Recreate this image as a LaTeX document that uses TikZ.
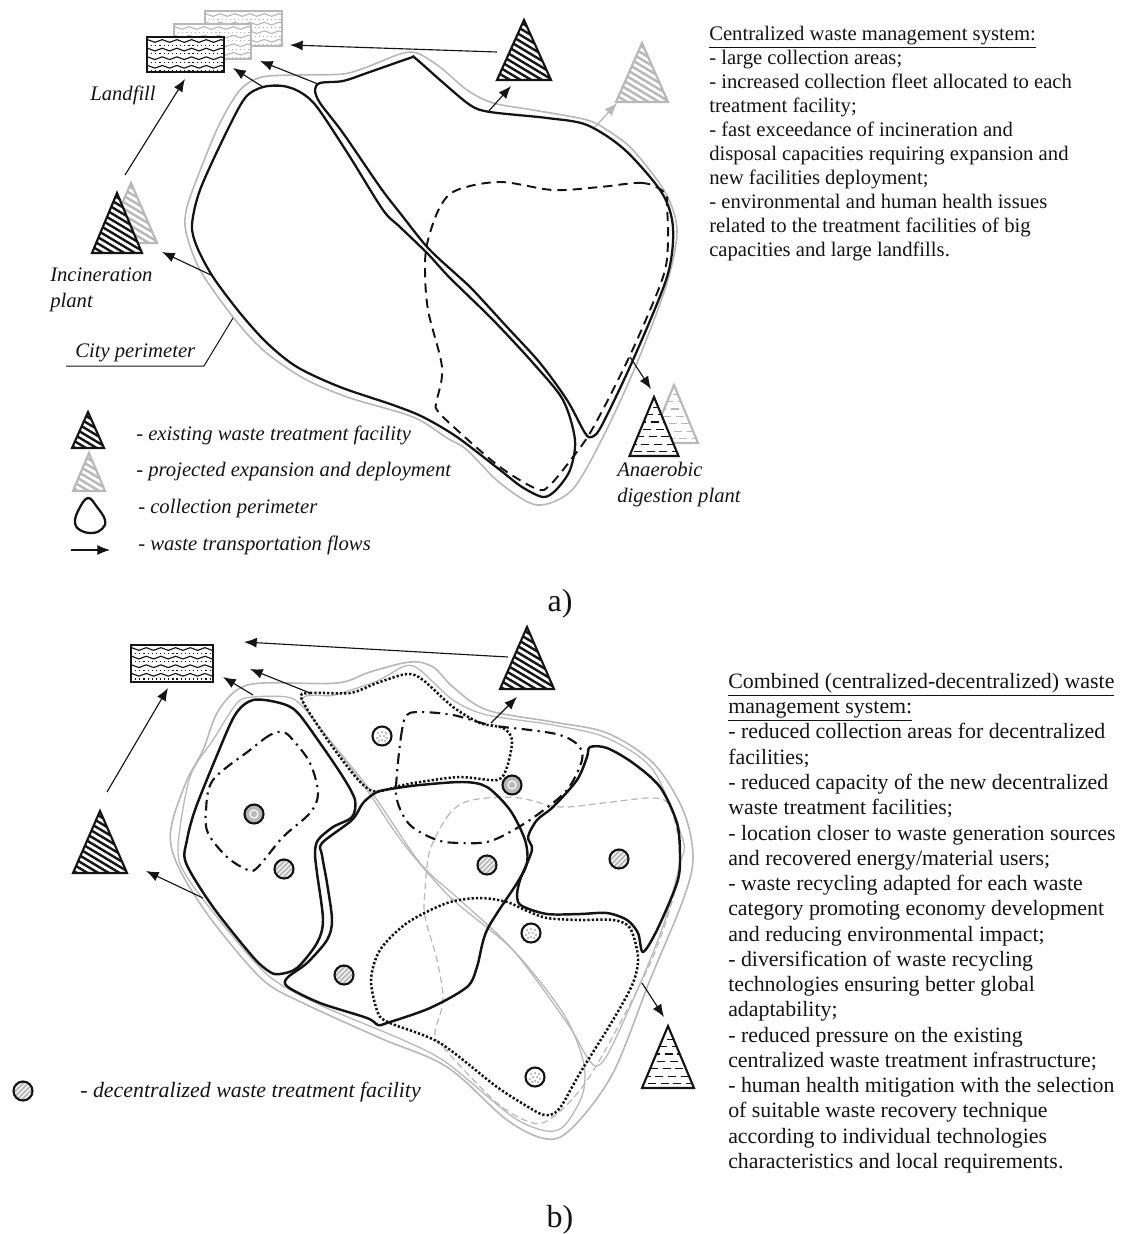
\documentclass[tikz,border=0pt]{standalone}
\usepackage{fontspec}
\setmainfont{Liberation Serif}
\usetikzlibrary{arrows.meta,decorations.pathmorphing}
\definecolor{gr}{gray}{0.72}
\definecolor{ink}{gray}{0.08}
\tikzset{
  every node/.style={inner sep=0pt,text=ink},
  boundary/.style={draw=gr,line width=1.2pt},
  thinbound/.style={draw=gr,line width=0.95pt},
  region/.style={draw=ink,line width=1.7pt,line join=round},
  regionb/.style={draw=ink,line width=1.85pt,line join=round},
  dashreg/.style={draw=ink,line width=1.45pt,dash pattern=on 7pt off 4.5pt},
  grdash/.style={draw=gr,line width=0.9pt,dash pattern=on 5pt off 3pt},
  dotreg/.style={draw=ink,line width=1.9pt,line cap=butt,dash pattern=on 1.7pt off 1.5pt},
  chain/.style={draw=ink,line width=1.6pt,dash pattern=on 8pt off 4pt on 1.6pt off 4pt},
  flow/.style={draw=ink,line width=0.85pt,-{Latex[length=9.5pt,width=7.5pt]}},
  grflow/.style={draw=gr,line width=1pt,-{Latex[length=9.5pt,width=7.5pt]}},
  lead/.style={draw=ink,line width=0.75pt},
  body/.style={font=\fontsize{15.5}{18}\selectfont,align=left,anchor=north west},
  bodyb/.style={font=\fontsize{16.4}{18.95}\selectfont,align=left,anchor=north west},
  lab/.style={font=\fontsize{15.5}{19.5}\selectfont\itshape,align=left,anchor=west},
  labb/.style={font=\fontsize{16.4}{19.5}\selectfont\itshape,align=left,anchor=west},
  sublab/.style={font=\fontsize{24}{28}\selectfont,anchor=center},
}
% apex x, apex y, half width, height, colour
\newcommand\hatchtri[5]{%
  \fill[white] (#1,#2) -- ++(#3,#4) -- ++({-2*#3},0) -- cycle;
  \begin{scope}
    \clip (#1,#2) -- ++(#3,#4) -- ++({-2*#3},0) -- cycle;
    \foreach \k in {-9,...,9}{
      \draw[#5,line width=1.8pt] ({#1-50},{#2+#4/2+\k*6.4-30}) -- ++(100,60);
    }
  \end{scope}
  \draw[#5,line width=1.6pt,line join=miter] (#1,#2) -- ++(#3,#4) -- ++({-2*#3},0) -- cycle;
}
\newcommand\dashtri[5]{%
  \fill[white] (#1,#2) -- ++(#3,#4) -- ++({-2*#3},0) -- cycle;
  \begin{scope}
    \clip (#1,#2) -- ++(#3,#4) -- ++({-2*#3},0) -- cycle;
    \foreach \k in {1,...,7}{
      \draw[#5,line width=0.9pt,dash pattern=on 6pt off 3.5pt,dash phase={\k*4pt}] ({#1-40},{#2+#4-\k*7.4+3}) -- ++(80,0);
    }
  \end{scope}
  \draw[#5,line width=1.6pt] (#1,#2) -- ++(#3,#4) -- ++({-2*#3},0) -- cycle;
}
% x1,y1,x2,y2,colour,edge width
\newcommand\wavebox[6]{%
  \fill[white] (#1,#2) rectangle (#3,#4);
  \begin{scope}
    \clip (#1,#2) rectangle (#3,#4);
    \foreach \k in {0,...,3}{
      \draw[#5,line width=0.85pt,decorate,decoration={snake,amplitude=1pt,segment length=11pt}] ({#1-4},{#2+4+\k*8.6}) -- ({#3+4},{#2+4+\k*8.6});
      \draw[#5,line width=0.9pt,dash pattern=on 0.9pt off 2.2pt] ({#1},{#2+8.2+\k*8.6}) -- ({#3},{#2+8.2+\k*8.6});
    }
  \end{scope}
  \draw[#5,line width=#6] (#1,#2) rectangle (#3,#4);
}
\newcommand\hatchdisc[2]{%
  \fill[gr] (#1,#2) circle (9.5);
  \begin{scope}
    \clip (#1,#2) circle (9.5);
    \foreach \k in {-3,...,3}{
      \draw[white,line width=1pt] ({#1-12},{#2+12+\k*5}) -- ++(24,-24);
    }
  \end{scope}
  \draw[ink,line width=1.6pt] (#1,#2) circle (9.5);
}
\newcommand\mixdisc[2]{%
  \fill[gr] (#1,#2) circle (9.5);
  \draw[white,line width=0.9pt] (#1,#2) circle (4);
  \draw[ink,line width=1.6pt] (#1,#2) circle (9.5);
}
\newcommand\dotdisc[2]{%
  \fill[white] (#1,#2) circle (9.5);
  \foreach \dx/\dy in {-4/-3,0/-4,4/-3,-2/0,2/0,-5/2,5/2,0/4,-3/5,3/5}{
    \fill[gray] ({#1+\dx},{#2+\dy}) circle (0.8);
  }
  \draw[ink,line width=1.6pt] (#1,#2) circle (9.5);
}
\begin{document}
\begin{tikzpicture}[x=0.75pt,y=-0.75pt]
\useasboundingbox (0,0) rectangle (1120,1234);
\fill[white] (0,0) rectangle (1120,1234);

% ============ panel a ============
\wavebox{205}{11}{282}{46}{gr}{1.4pt}
\wavebox{174}{24}{251}{59}{gr}{1.4pt}
\wavebox{147}{37}{224}{72}{ink}{1.8pt}

\draw[boundary] plot[smooth cycle,tension=0.5] coordinates {
 (262,77)(300,75)(343,74)(367,67)(400,54)(417,53)(440,67)(467,90)(493,103)(533,110)(587,120)(610,132)(633,150)(665,192)(677,230)(667,283)(637,363)(603,437)(572,490)(537,505)(500,483)(467,450)(447,438)(413,417)(347,397)(303,378)(263,350)(233,317)(200,270)(186,232)(187,207)(203,163)(220,123)(240,90)};

\draw[region] plot[smooth cycle,tension=0.5] coordinates {
 (263,87)(283,86)(300,92)(317,107)(350,157)(383,210)(400,227)(427,253)(450,278)(493,320)(533,363)(563,400)(575,440)(570,470)(556,490)(543,497)(522,487)(500,470)(457,437)(423,417)(393,405)(340,387)(297,367)(267,343)(240,313)(213,277)(197,247)(192,225)(200,190)(225,135)(245,98)};

\draw[region] plot[smooth cycle,tension=0.5] coordinates {
 (315,90)(320,83)(343,81)(367,73)(410,58)(415,58)(440,80)(470,105)(490,112)(547,118)(587,125)(625,150)(662,193)(673,228)(667,277)(633,360)(602,425)(592,437)(585,433)(567,400)(540,363)(507,327)(473,290)(457,275)(428,248)(400,213)(380,187)(343,133)(320,103)};

\draw[dashreg] plot[smooth cycle,tension=0.55] coordinates {
 (665,193)(643,183)(600,187)(553,190)(500,182)(457,190)(440,207)(428,240)(425,267)(428,310)(442,367)(437,400)(437,410)(457,430)(500,467)(537,489)(550,485)(573,457)(590,433)(613,390)(637,340)(663,277)(668,243)(667,207)};

\hatchtri{131}{183}{26}{60}{gr}
\hatchtri{117}{193}{25}{60}{ink}
\hatchtri{524}{20}{27}{60}{ink}
\hatchtri{642}{43}{26}{59}{gr}
\dashtri{674}{385}{24}{58}{gr}
\dashtri{654}{397}{24.5}{59}{ink}

\coordinate (a1s) at (125,175); \coordinate (a1e) at (185,79);
\coordinate (a2s) at (263,87); \coordinate (a2e) at (233,68);
\coordinate (a3s) at (318,84); \coordinate (a3e) at (260,61);
\coordinate (a4s) at (497,52); \coordinate (a4e) at (290,45);
\coordinate (a5s) at (488,112); \coordinate (a5e) at (511,86);
\coordinate (a6s) at (213,276); \coordinate (a6e) at (162,252);
\coordinate (a7s) at (630,357); \coordinate (a7e) at (651,389);
\coordinate (a8s) at (595,127); \coordinate (a8e) at (617,103);
\coordinate (c1) at (233,318); \coordinate (c2) at (204,366); \coordinate (c3) at (66,366);
\draw[flow] (a1s) -- (a1e);
\draw[flow] (a2s) -- (a2e);
\draw[flow] (a3s) -- (a3e);
\draw[flow] (a4s) -- (a4e);
\draw[flow] (a5s) -- (a5e);
\draw[flow] (a6s) -- (a6e);
\draw[flow] (a7s) -- (a7e);
\draw[grflow] (a8s) -- (a8e);
\draw[lead] (c1) -- (c2) -- (c3);

\node[lab] (tLandfill) at (90,95) {Landfill};
\node[lab] (tInc) at (50,289.5) {Incineration\\plant};
\node[lab] (tCity) at (75,353) {City perimeter};
\node[lab] (tAna) at (617,485) {Anaerobic\\digestion plant};

% legend a
\hatchtri{88}{412}{16}{36}{ink}
\hatchtri{89}{453}{16}{38}{gr}
\draw[region] plot[smooth cycle,tension=0.7] coordinates {(88,498)(97,507)(105,520)(102,529)(92,533)(80,530)(75,522)(79,509)};
\coordinate (ls) at (71,550); \coordinate (le) at (110,550);
\draw[flow] (ls) -- (le);
\node[lab] (l1) at (136,435) {- existing waste treatment facility};
\node[lab] (l2) at (136,472) {- projected expansion and deployment};
\node[lab] (l3) at (138,509) {- collection perimeter};
\node[lab] (l4) at (138,545) {- waste transportation flows};

\node[body] (ta) at (709,26) {\underline{Centralized waste management system:}\\
- large collection areas;\\
- increased collection fleet allocated to each\\
treatment facility;\\
- fast exceedance of incineration and\\
disposal capacities requiring expansion and\\
new facilities deployment;\\
- environmental and human health issues\\
related to the treatment facilities of big\\
capacities and large landfills.};

\node[sublab] (na) at (560,604) {a)};

% ============ panel b ============
\wavebox{131}{645}{213}{682}{ink}{1.8pt}

\draw[boundary] plot[smooth cycle,tension=0.55] coordinates {
 (410,662)(433,667)(453,687)(487,710)(553,722)(607,733)(653,763)(683,810)(693,857)(683,900)(650,980)(613,1073)(573,1127)(547,1139)(507,1120)(447,1067)(380,1038)(303,1003)(263,980)(217,927)(187,883)(172,850)(172,823)(187,780)(203,750)(217,713)(237,690)(263,683)(337,683)(370,672)};
\draw[thinbound] plot[smooth cycle,tension=0.5] coordinates {
 (253,697)(287,697)(303,707)(337,750)(367,790)(403,843)(450,897)(513,950)(563,1013)(583,1060)(583,1093)(565,1125)(547,1131)(513,1117)(447,1063)(403,1040)(320,1005)(270,977)(230,933)(187,877)(178,847)(190,777)(213,740)(237,703)};
\draw[thinbound] plot[smooth cycle,tension=0.5] coordinates {
 (303,703)(335,695)(377,681)(405,666)(420,670)(453,700)(487,715)(553,725)(607,738)(653,770)(683,840)(680,863)(665,920)(643,977)(610,1050)(597,1066)(587,1057)(567,1023)(513,950)(460,900)(420,863)(370,790)};
\draw[grdash] plot[smooth cycle,tension=0.55] coordinates {
 (430,850)(447,817)(463,803)(487,798)(520,798)(560,807)(603,803)(653,798)(670,807)(680,850)(677,883)(653,957)(607,1047)(580,1090)(553,1117)(533,1123)(497,1103)(443,1047)(435,1033)(443,1000)(437,960)(425,917)(425,890)};

\draw[regionb] plot[smooth cycle,tension=0.5] coordinates {
 (253,700)(280,703)(297,712)(320,743)(343,777)(355,800)(352,817)(333,827)(318,840)(315,853)(317,873)(323,920)(317,943)(297,968)(280,974)(270,972)(253,957)(213,907)(186,863)(187,840)(195,810)(215,760)(235,715)};
\draw[regionb] plot[smooth cycle,tension=0.5] coordinates {
 (420,785)(397,788)(377,792)(363,803)(352,820)(322,843)(322,855)(327,883)(332,920)(327,940)(307,963)(287,978)(288,987)(320,1003)(367,1018)(378,1025)(387,1023)(430,1008)(467,987)(477,967)(487,930)(517,883)(527,863)(525,840)(510,810)(487,787)(463,782)};
\draw[regionb] plot[smooth cycle,tension=0.5] coordinates {
 (590,747)(607,748)(633,763)(660,787)(677,823)(680,857)(677,883)(657,930)(643,952)(638,933)(627,920)(607,913)(580,914)(547,914)(522,906)(517,897)(520,880)(532,850)(528,837)(537,820)(553,807)(577,780)(587,757)};

\draw[dotreg] plot[smooth cycle,tension=0.5] coordinates {
 (302,700)(310,693)(350,693)(377,683)(407,674)(423,680)(453,707)(480,723)(503,728)(512,740)(507,767)(497,780)(460,777)(420,782)(403,785)(370,790)(337,753)};
\draw[dotreg] plot[smooth cycle,tension=0.5] coordinates {
 (507,902)(525,910)(547,918)(580,920)(613,920)(630,928)(638,957)(633,983)(613,1020)(580,1073)(562,1105)(553,1114)(545,1115)(535,1111)(497,1087)(440,1043)(390,1023)(378,1013)(371,980)(380,950)(407,923)(447,903)(480,898)};

\draw[chain] plot[smooth cycle,tension=0.55] coordinates {
 (283,732)(270,735)(250,750)(213,780)(206,810)(208,833)(227,857)(248,870)(258,867)(283,837)(310,813)(318,793)(310,763)(293,740)};
\draw[chain] plot[smooth cycle,tension=0.55] coordinates {
 (407,715)(402,730)(397,773)(397,800)(410,825)(437,840)(460,843)(487,842)(510,832)(537,815)(567,790)(582,760)(578,745)(560,735)(530,730)(490,725)(453,715)(420,712)};

\dotdisc{382}{736}
\mixdisc{254}{814}
\hatchdisc{284}{869}
\mixdisc{512}{785}
\hatchdisc{487}{865}
\hatchdisc{619}{859}
\hatchdisc{344}{975}
\dotdisc{531}{933}
\dotdisc{535}{1077}

\hatchtri{527}{627}{27}{62}{ink}
\hatchtri{100}{811}{27}{62}{ink}
\dashtri{668}{1026}{26}{62}{ink}

\coordinate (b1s) at (107,792); \coordinate (b1e) at (168,688);
\coordinate (b2s) at (253,695); \coordinate (b2e) at (223,677);
\coordinate (b3s) at (310,693); \coordinate (b3e) at (250,669);
\coordinate (b4s) at (508,657); \coordinate (b4e) at (244,642);
\coordinate (b5s) at (491,723); \coordinate (b5e) at (517,697);
\coordinate (b6s) at (203,898); \coordinate (b6e) at (146,871);
\coordinate (b7s) at (642,983); \coordinate (b7e) at (664,1017);
\draw[flow] (b1s) -- (b1e);
\draw[flow] (b2s) -- (b2e);
\draw[flow] (b3s) -- (b3e);
\draw[flow] (b4s) -- (b4e);
\draw[flow] (b5s) -- (b5e);
\draw[flow] (b6s) -- (b6e);
\draw[flow] (b7s) -- (b7e);

\hatchdisc{23}{1091}
\node[labb] (l5) at (80,1092) {- decentralized waste treatment facility};

\node[bodyb] (tb) at (728,673) {\underline{Combined (centralized-decentralized) waste}\\
\underline{management system:}\\
- reduced collection areas for decentralized\\
facilities;\\
- reduced capacity of the new decentralized\\
waste treatment facilities;\\
- location closer to waste generation sources\\
and recovered energy/material users;\\
- waste recycling adapted for each waste\\
category promoting economy development\\
and reducing environmental impact;\\
- diversification of waste recycling\\
technologies ensuring better global\\
adaptability;\\
- reduced pressure on the existing\\
centralized waste treatment infrastructure;\\
- human health mitigation with the selection\\
of suitable waste recovery technique\\
according to individual technologies\\
characteristics and local requirements.};

\node[sublab] (nb) at (560,1220) {b)};
\end{tikzpicture}
\end{document}
